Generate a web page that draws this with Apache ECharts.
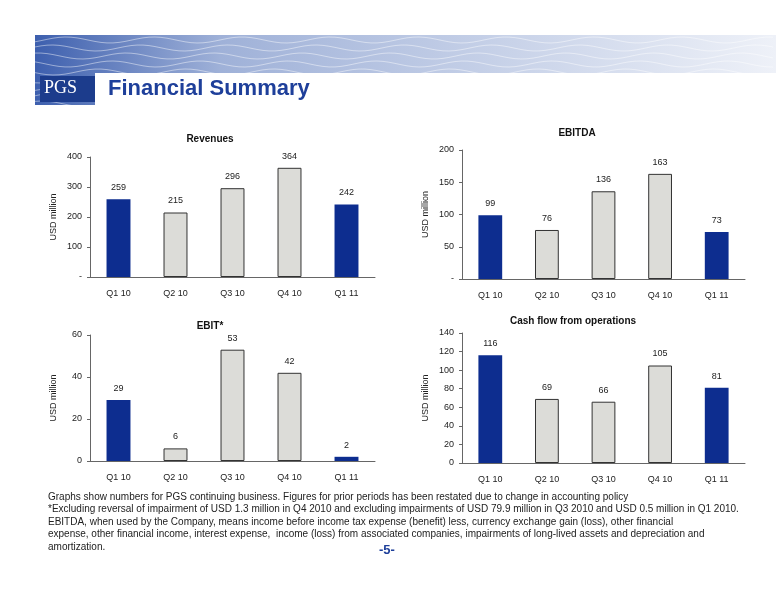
<!DOCTYPE html>
<html><head><meta charset="utf-8">
<script src="https://cdn.jsdelivr.net/npm/echarts@6/dist/echarts.min.js"></script>
<style>html,body{margin:0;padding:0;background:#fff}#c{width:776px;height:600px}</style>
</head><body><div id="c"></div>
<script>
const categories = ['Q1 10','Q2 10','Q3 10','Q4 10','Q1 11'];
const revenues = [259,215,296,364,242];
const ebitda = [99,76,136,163,73];
const ebit = [29,6,53,42,2];
const cashflow = [116,69,66,105,81];
const titles = ['Revenues','EBITDA','EBIT*','Cash flow from operations'];
const notes = [
 'Graphs show numbers for PGS continuing business. Figures for prior periods has been restated due to change in accounting policy',
 '*Excluding reversal of impairment of USD 1.3 million in Q4 2010 and excluding impairments of USD 79.9 million in Q3 2010 and USD 0.5 million in Q1 2010.',
 'EBITDA, when used by the Company, means income before income tax expense (benefit) less, currency exchange gain (loss), other financial',
 'expense, other financial income, interest expense,  income (loss) from associated companies, impairments of long-lived assets and depreciation and',
 'amortization.'
];
const chart = echarts.init(document.getElementById('c'));
const grids = [
 {left:90,top:157,width:285,height:120},
 {left:462,top:150,width:283,height:129},
 {left:90,top:335,width:285,height:126},
 {left:462,top:333,width:283,height:130}
];
const yax = [{max:400,interval:100,dash:true},{max:200,interval:50,dash:true},{max:60,interval:20},{max:140,interval:20}];
const data = [revenues,ebitda,ebit,cashflow];
const titlePos = [[210,139],[577,133],[210,326],[573,321]];
const font = 'Arial, Liberation Sans, sans-serif';
const graphic = [];
graphic.push({type:'rect',shape:{x:35,y:35,width:741,height:70},style:{fill:new echarts.graphic.LinearGradient(0,0,1,0,[{offset:0,color:'#3d5fae'},{offset:0.25,color:'#9fb1d8'},{offset:1,color:'#eef1f8'}])},z:0});
for(let k=0;k<9;k++){
  const pts=[];for(let x=35;x<=776;x+=6){pts.push([x,40+k*8+3*Math.sin(x/14+k)]);}
  graphic.push({type:'polyline',shape:{points:pts},style:{stroke:'rgba(255,255,255,0.45)',lineWidth:1,fill:null},z:1});
}
graphic.push({type:'rect',shape:{x:95,y:73,width:681,height:32},style:{fill:'#ffffff'},z:2});
graphic.push({type:'rect',shape:{x:40,y:76,width:55,height:26},style:{fill:'#1c3c8c'},z:3});
graphic.push({type:'text',left:44,top:79,style:{text:'PGS',fill:'#fff',font:'18px "Times New Roman", Liberation Serif, serif'},z:4});
graphic.push({type:'text',left:108,top:78,style:{text:'Financial Summary',fill:'#1e3f9a',font:'bold 22px '+font},z:4});
notes.forEach((t,i)=>graphic.push({type:'text',left:48,top:492+i*12.5,style:{text:t,fill:'#222',font:'10px '+font}}));
graphic.push({type:'text',left:379,top:544,style:{text:'-5-',fill:'#1e3f9a',font:'bold 13px '+font}});
titles.forEach((t,i)=>graphic.push({type:'text',x:titlePos[i][0],y:titlePos[i][1],style:{text:t,fill:'#111',font:'bold 10px '+font,align:'center',verticalAlign:'middle'}}));
const option = {
 animation:false,
 grid:grids.map(g=>Object.assign({containLabel:false},g)),
 xAxis:grids.map((g,i)=>({type:'category',gridIndex:i,data:categories,axisTick:{show:false},axisLine:{lineStyle:{color:'#666'}},axisLabel:{color:'#222',fontSize:9,fontFamily:font,margin:12}})),
 yAxis:yax.map((y,i)=>({type:'value',gridIndex:i,min:0,max:y.max,interval:y.interval,name:'USD million',nameLocation:'middle',nameGap:32,nameTextStyle:{fontSize:9,color:'#222',fontFamily:font},splitLine:{show:false},axisLine:{show:true,lineStyle:{color:'#666'}},axisTick:{show:true,length:3,lineStyle:{color:'#666'}},axisLabel:{color:'#222',fontSize:9,fontFamily:font,formatter:v=>(v===0&&y.dash)?'-':String(v)}})),
 series:data.map((d,i)=>({type:'bar',xAxisIndex:i,yAxisIndex:i,barWidth:'42%',
   data:d.map((v,j)=>({value:v,itemStyle:{color:(j===0||j===4)?'#0d2d8f':'#dcdcd8',borderColor:'#333',borderWidth:(j===0||j===4)?0:1}})),
   label:{show:true,position:'top',distance:7,color:'#222',fontSize:9,fontFamily:font}})),
 graphic:graphic
};
chart.setOption(option);
</script></body></html>
